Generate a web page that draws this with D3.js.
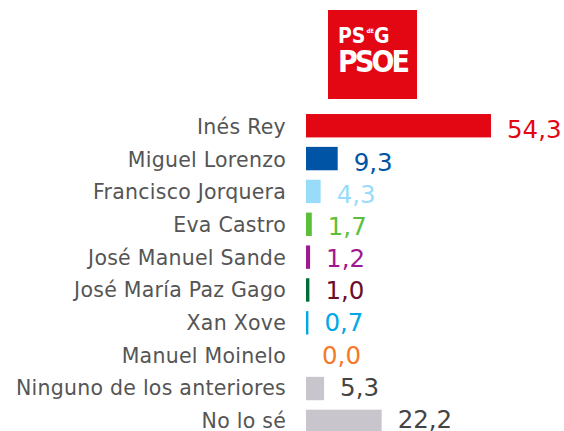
<!DOCTYPE html>
<html>
<head>
<meta charset="utf-8">
<title>PSdeG</title>
<style>
  body { margin: 0; background: #fff; }
  svg { display: block; }
  .cat { font-family: "DejaVu Sans", sans-serif; font-size: 20.5px; letter-spacing: 0.25px; fill: #555; }
  .val { font-family: "DejaVu Sans", sans-serif; font-size: 24.5px; }
  .logo { font-family: "Liberation Sans Narrow", "DejaVu Sans Condensed", sans-serif; font-weight: bold; fill: #fff; }
</style>
</head>
<body>
<svg id="chart" width="564" height="431"></svg>
<script src="https://d3js.org/d3.v7.min.js"></script>
<script>
const categories = ["Inés Rey", "Miguel Lorenzo", "Francisco Jorquera", "Eva Castro",
  "José Manuel Sande", "José María Paz Gago", "Xan Xove", "Manuel Moinelo",
  "Ninguno de los anteriores", "No lo sé"];
const values = [54.3, 9.3, 4.3, 1.7, 1.2, 1.0, 0.7, 0.0, 5.3, 22.2];
const barColors = ["#e30613", "#0054a6", "#99dcfa", "#5cbf3a", "#a0198f", "#006b35", "#00a8e8", "#f47a2a", "#c8c6cc", "#c8c6cc"];
const labelColors = ["#e30613", "#0054a6", "#99dcfa", "#5cbf3a", "#a0198f", "#6b0e2a", "#00a8e8", "#f47a2a", "#444444", "#444444"];

const svg = d3.select("#chart");
const data = categories.map((c, i) => ({ name: c, v: values[i], bar: barColors[i], lab: labelColors[i] }));

const x = d3.scaleLinear().domain([0, 54.3]).range([306, 491]);
// bar rows: step ~32.85, bar ~23.4 tall
const y = d3.scaleBand().domain(categories).range([109.3, 437.8])
  .paddingInner(0.288).paddingOuter(0.144);
// text rows sit on slightly tighter steps than the bars
const yCat = d3.scalePoint().domain(categories).range([126.8, 420.5]);
const yVal = d3.scalePoint().domain(categories).range([129.5, 419]);

// logo
const logo = svg.append("g");
logo.append("rect").attr("x", 328).attr("y", 10).attr("width", 89).attr("height", 89).attr("fill", "#e30613");
const t1 = logo.append("text").attr("class", "logo")
  .attr("x", 338).attr("y", 43)
  .style("font-size", "21px");
t1.append("tspan").text("PS");
t1.append("tspan").text("dE").style("font-size", "6px").attr("dx", 1).attr("dy", -10);
t1.append("tspan").text("G").attr("dx", 0).attr("dy", 10);
logo.append("text").attr("class", "logo")
  .attr("x", 338).attr("y", 72)
  .style("font-size", "30px")
  .attr("textLength", 72)
  .text("PSOE");

svg.selectAll("rect.bar")
  .data(data)
  .enter()
  .append("rect")
  .attr("class", "bar")
  .attr("x", x(0))
  .attr("y", d => y(d.name))
  .attr("width", d => x(d.v) - x(0))
  .attr("height", y.bandwidth())
  .attr("fill", d => d.bar);

svg.selectAll("text.cat")
  .data(data)
  .enter()
  .append("text")
  .attr("class", "cat")
  .attr("x", 286)
  .attr("y", d => yCat(d.name))
  .attr("dy", "0.36em")
  .attr("text-anchor", "end")
  .text(d => d.name);

svg.selectAll("text.val")
  .data(data)
  .enter()
  .append("text")
  .attr("class", "val")
  .attr("x", d => x(d.v) + 16)
  .attr("y", d => yVal(d.name))
  .attr("dy", "0.365em")
  .attr("fill", d => d.lab)
  .text(d => d.v.toFixed(1).replace(".", ","));
</script>
</body>
</html>
